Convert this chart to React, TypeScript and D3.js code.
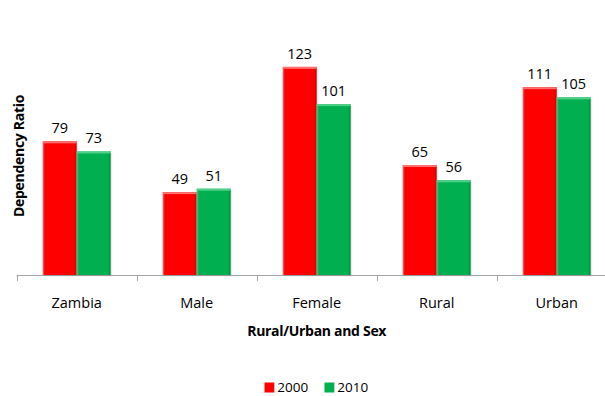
import React from "react";
import * as d3 from "d3";

const categories = ["Zambia", "Male", "Female", "Rural", "Urban"];
const series = ["2000", "2010"];
const values2000 = [79, 49, 123, 65, 111];
const values2010 = [73, 51, 101, 56, 105];
const colors = ["#FF0000", "#00B050"];
const darkColors = ["#C80000", "#008A3E"];
const lightColors = ["#FF7070", "#50D088"];

const W = 605;
const H = 396;
const FONT = "'Open Sans', sans-serif";

export default function App() {
  const baseY = 275;
  const x = d3.scaleBand<string>().domain(categories).range([16.7, 616.7]).padding(0);
  const x1 = d3.scaleBand<string>().domain(series).range([26, 94]).padding(0);
  const y = d3.scaleLinear().domain([0, 150]).range([baseY, baseY - 1.692 * 150]);
  const data = [values2000, values2010];

  return (
    <div style={{ position: "fixed", left: 0, top: 0 }}>
      <svg width={W} height={H} style={{ display: "block", background: "#fff" }} fontFamily={FONT}>
        <defs>
          {series.map((s, i) => (
            <linearGradient key={s} id={`g${i}`} x1="0" x2="1" y1="0" y2="0">
              <stop offset="0" stopColor={lightColors[i]} />
              <stop offset="0.06" stopColor={colors[i]} />
              <stop offset="0.92" stopColor={colors[i]} />
              <stop offset="1" stopColor={darkColors[i]} />
            </linearGradient>
          ))}
        </defs>
        {/* axis */}
        <line x1={16.7} x2={W} y1={baseY + 0.5} y2={baseY + 0.5} stroke="#A6A6A6" strokeWidth={1} />
        {d3.range(categories.length + 1).map((k) => {
          const tx = Math.round(16.7 + k * x.step()) + 0.5;
          return <line key={k} x1={tx} x2={tx} y1={baseY} y2={baseY + 6} stroke="#A6A6A6" />;
        })}
        {/* bars */}
        {categories.map((c, ci) => (
          <g key={c} transform={`translate(${x(c)},0)`}>
            {series.map((s, si) => {
              const v = data[si][ci];
              const bx = x1(s)!;
              const bw = x1.bandwidth();
              const top = y(v);
              return (
                <g key={s}>
                  <rect x={bx + 1.5} y={top + 1.5} width={bw} height={baseY - top} fill="#000" opacity={0.08} />
                  <rect x={bx} y={top} width={bw} height={baseY - top} fill={`url(#g${si})`} />
                  <rect x={bx} y={top} width={bw} height={2} fill={lightColors[si]} />
                  <text x={bx + bw / 2} y={top - 8} textAnchor="middle" fontSize={14.5} fill="#000">
                    {v}
                  </text>
                </g>
              );
            })}
            <text x={x.bandwidth() / 2} y={308} textAnchor="middle" fontSize={14.5} fill="#000">
              {c}
            </text>
          </g>
        ))}
        {/* axis titles */}
        <text x={316.7} y={336} textAnchor="middle" fontSize={14} fontWeight="bold" fill="#000" letterSpacing={-0.3}>
          Rural/Urban and Sex
        </text>
        <text
          transform={`translate(24,156) rotate(-90)`}
          textAnchor="middle"
          fontSize={14}
          fontWeight="bold"
          fill="#000"
          letterSpacing={-0.3}
        >
          Dependency Ratio
        </text>
        {/* legend */}
        {series.map((s, i) => {
          const lx = 264.3 + i * 60;
          return (
            <g key={s}>
              <rect x={lx} y={382.5} width={10} height={10} fill={`url(#g${i})`} />
              <text x={lx + 13} y={392.3} fontSize={13.5} fill="#000">
                {s}
              </text>
            </g>
          );
        })}
      </svg>
    </div>
  );
}
